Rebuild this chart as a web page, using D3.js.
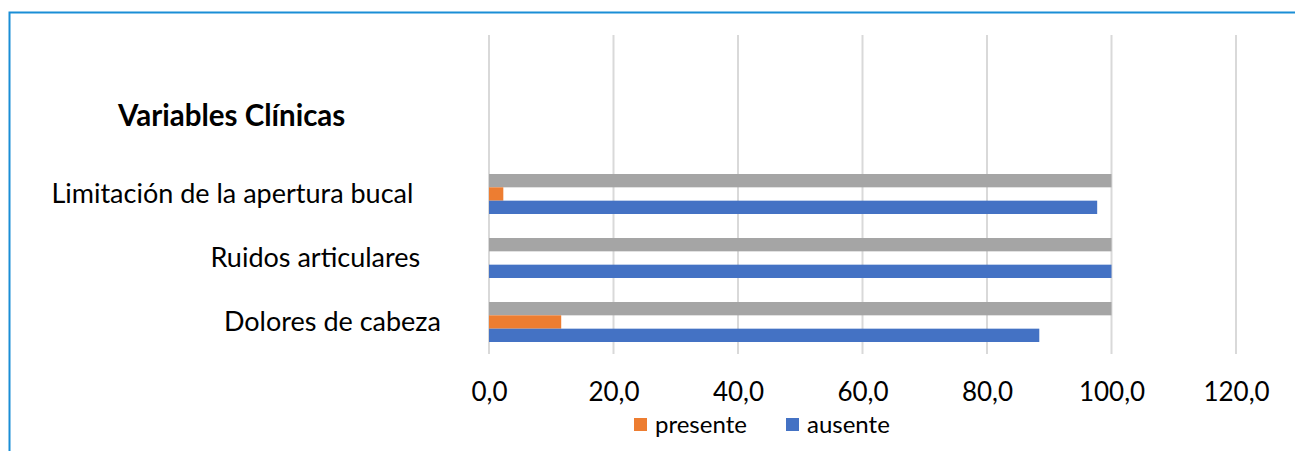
<!DOCTYPE html>
<html>
<head>
<meta charset="utf-8">
<script src="https://cdn.jsdelivr.net/npm/d3@7"></script>
<style>
  body { margin: 0; background: #fff; }
  svg { display: block; font-family: Lato, "Open Sans", sans-serif; }
</style>
</head>
<body>
<script>
// data (percentages)
const categories = ["Limitación de la apertura bucal", "Ruidos articulares", "Dolores de cabeza"];
// trailing spaces in the original labels push them left of the axis
const labelPad = ["\u00a0\u00a0\u00a0\u00a0", "\u00a0\u00a0\u00a0", ""];
const total = [100, 100, 100];
const presente = [2.3, 0, 11.6];
const ausente = [97.7, 100, 88.4];
const ticks = [0, 20, 40, 60, 80, 100, 120];

const seriesNames = ["total", "presente", "ausente"];
const seriesColors = { total: "#a5a5a5", presente: "#ed7d31", ausente: "#4472c4" };

const W = 1295, H = 451;
const svg = d3.select("body").append("svg")
    .attr("width", W)
    .attr("height", H);

// frame
svg.append("path")
    .attr("d", `M9.5,451 V12.5 H${W}`)
    .attr("fill", "none")
    .attr("stroke", "#1a8ed6")
    .attr("stroke-width", 2);

const x = d3.scaleLinear().domain([0, 120]).range([489, 1236]);
const y = d3.scaleBand().domain(categories).range([162, 354]);
const ySub = d3.scaleBand().domain(seriesNames).range([12, 52]);

// gridlines
svg.append("g")
    .selectAll("line")
    .data(ticks)
    .enter()
    .append("line")
      .attr("x1", d => x(d))
      .attr("x2", d => x(d))
      .attr("y1", 35)
      .attr("y2", 354)
      .attr("stroke", "#d9d9d9")
      .attr("stroke-width", 2);

// bars
const rows = categories.map((c, i) => ({ cat: c, total: total[i], presente: presente[i], ausente: ausente[i] }));
const groups = svg.append("g")
    .selectAll("g")
    .data(rows)
    .enter()
    .append("g")
      .attr("transform", d => `translate(0, ${y(d.cat)})`);

groups.selectAll("rect")
    .data(d => seriesNames.map(s => ({ key: s, value: d[s] })))
    .enter()
    .append("rect")
      .attr("x", x(0))
      .attr("y", d => ySub(d.key))
      .attr("width", d => x(d.value) - x(0))
      .attr("height", ySub.bandwidth())
      .attr("fill", d => seriesColors[d.key]);

// category labels
svg.append("g")
    .selectAll("text")
    .data(categories)
    .enter()
    .append("text")
      .attr("x", 441)
      .attr("y", d => y(d) + y.bandwidth() / 2)
      .attr("dy", "0.35em")
      .attr("text-anchor", "end")
      .style("white-space", "pre")
      .attr("font-size", 27)
      .attr("fill", "#000")
      .text((d, i) => d + labelPad[i]);

// title
svg.append("text")
    .attr("x", 118)
    .attr("y", 126)
    .attr("font-size", 29.5)
    .attr("font-weight", "bold")
    .attr("fill", "#000")
    .text("Variables Clínicas");

// x axis labels
const xAxis = d3.axisBottom(x)
    .tickValues(ticks)
    .tickSize(0)
    .tickPadding(0)
    .tickFormat(d => d3.format(".1f")(d).replace(".", ","));

const ax = svg.append("g")
    .attr("transform", "translate(0, 383)")
    .call(xAxis);
ax.select(".domain").remove();
ax.selectAll("text")
    .attr("font-family", "Lato, sans-serif")
    .attr("font-size", 26)
    .attr("fill", "#000");

// legend
const legendItems = ["presente", "ausente"];
const legend = svg.append("g")
    .attr("transform", "translate(634, 418)");
const li = legend.selectAll("g")
    .data(legendItems)
    .enter()
    .append("g")
      .attr("transform", (d, i) => `translate(${i * 152}, 0)`);
li.append("rect")
    .attr("width", 13)
    .attr("height", 13)
    .attr("fill", d => seriesColors[d]);
li.append("text")
    .attr("x", 21)
    .attr("y", 7)
    .attr("dy", "0.35em")
    .attr("font-size", 24)
    .attr("fill", "#000")
    .text(d => d);
</script>
</body>
</html>
